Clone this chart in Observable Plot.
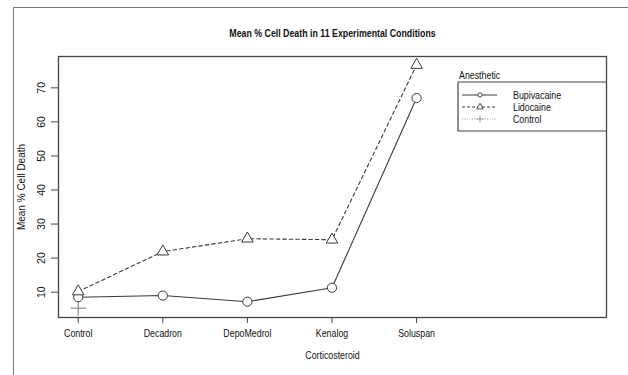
<!DOCTYPE html>
<html>
<head>
<meta charset="utf-8">
<script src="https://cdn.jsdelivr.net/npm/d3@7"></script>
<script src="https://cdn.jsdelivr.net/npm/@observablehq/plot@0.6"></script>
<style>
  html, body { margin: 0; padding: 0; background: #fff; }
  #wrap { position: relative; width: 628px; height: 375px; overflow: hidden; }
  #wrap > svg { position: absolute; left: 0; top: 0; }
  #border { position: absolute; left: 13px; top: 7px; width: 640px; height: 400px;
            border-left: 1.5px solid #777; border-top: 1.5px solid #777; pointer-events: none; }
</style>
</head>
<body>
<div id="wrap"><div id="border"></div></div>
<script>
// ---- data ----
const categories = ["Control", "Decadron", "DepoMedrol", "Kenalog", "Soluspan"];
const bupivacaine = [8.5, 9.0, 7.2, 11.3, 67.0];
const lidocaine = [10.2, 21.9, 25.7, 25.4, 76.7];
const controlCats = ["Control"];
const controlVals = [5.3];
const yTicks = [10, 20, 30, 40, 50, 60, 70];
const seriesNames = ["Bupivacaine", "Lidocaine", "Control"];
const titleText = "Mean % Cell Death in 11 Experimental Conditions";
const xLabel = "Corticosteroid";
const yLabel = "Mean % Cell Death";
const legendTitle = "Anesthetic";

// ---- build table ----
const rows = [];
categories.forEach((c, i) => rows.push({series: "Bupivacaine", pos: i + 1, value: bupivacaine[i]}));
categories.forEach((c, i) => rows.push({series: "Lidocaine", pos: i + 1, value: lidocaine[i]}));
controlCats.forEach((c, i) => rows.push({series: "Control", pos: categories.indexOf(c) + 1, value: controlVals[i]}));
const bup = rows.filter(d => d.series === "Bupivacaine");
const lid = rows.filter(d => d.series === "Lidocaine");
const ctl = rows.filter(d => d.series === "Control");

const ink = "#3a3a3a";
const font = "'Liberation Sans', Arial, Helvetica, sans-serif";

const chart = Plot.plot({
  width: 628,
  height: 375,
  marginLeft: 58,
  marginRight: 22,
  marginTop: 56,
  marginBottom: 58,
  style: {fontFamily: font, fontSize: "10.5px", color: "#111", background: "transparent"},
  x: {type: "linear", domain: [0.767, 7.245]},
  y: {type: "linear", domain: [2.56, 79.2]},
  marks: [
    Plot.frame({stroke: "#444", strokeWidth: 1.3}),
    Plot.axisX({ticks: categories.map((c, i) => i + 1), tickFormat: d => categories[d - 1],
                tickSize: 6, tickPadding: 6, label: null, stroke: "#444", className: "hz"}),
    Plot.axisY({ticks: yTicks, tickSize: 7, tickFormat: () => "", label: null, stroke: "#444"}),
    Plot.text(yTicks, {y: d => d, text: d => String(d), frameAnchor: "left", textAnchor: "middle",
                       dx: -17, rotate: -90, fontSize: 10.5, fill: "#111"}),
    Plot.line(bup, {x: "pos", y: "value", stroke: ink, strokeWidth: 1.1}),
    Plot.line(lid, {x: "pos", y: "value", stroke: ink, strokeWidth: 1.1, strokeDasharray: "3.5,3"}),
    Plot.dot(bup, {x: "pos", y: "value", r: 4.6, stroke: ink, fill: "white", strokeWidth: 1}),
    Plot.dot(lid, {x: "pos", y: "value", r: 4.3, symbol: "triangle", stroke: ink, fill: "white", strokeWidth: 1}),
    Plot.dot(ctl, {x: "pos", y: "value", r: 5, symbol: "plus", stroke: "#777", strokeWidth: 1}),
    Plot.text([titleText], {text: d => d, frameAnchor: "top", dy: -27, fontWeight: "bold", fontSize: 11, fill: "#111", className: "hz-title"}),
    Plot.text([xLabel], {text: d => d, frameAnchor: "bottom", dy: 41, fontSize: 10.5, fill: "#111", className: "hz"}),
    Plot.text([yLabel], {text: d => d, frameAnchor: "left", textAnchor: "middle", dx: -37, rotate: -90, fontSize: 10, fill: "#111"})
  ]
});
const wrap = document.getElementById("wrap");
wrap.insertBefore(chart, wrap.firstChild);

// ---- legend (overlay) ----
const lg = d3.select(wrap).append("svg")
  .attr("width", 628).attr("height", 375)
  .style("position", "absolute").style("left", "0px").style("top", "0px");
const bx0 = 458, bx1 = 606, by0 = 82, by1 = 131;
lg.append("path").attr("d", `M${bx1},${by0}H${bx0}V${by1}H${bx1}`)
  .attr("fill", "none").attr("stroke", "#444").attr("stroke-width", 1.2);
lg.append("text").attr("class", "hz").attr("x", bx0 + 1).attr("y", 79).text(legendTitle)
  .attr("font-family", font).attr("font-size", 10.5).attr("fill", "#111");
const dashes = ["none", "3,2", "1,1.5"];
const lcol = [ink, ink, "#999"];
seriesNames.forEach((name, i) => {
  const y = 95 + i * 12;
  lg.append("line").attr("x1", 462).attr("x2", 497).attr("y1", y).attr("y2", y)
    .attr("stroke", lcol[i]).attr("stroke-width", 1).attr("stroke-dasharray", dashes[i]);
  if (i === 2) {
    lg.append("path").attr("d", "M476.5," + y + "h7M480," + (y - 3.5) + "v7").attr("stroke", "#999").attr("fill", "none");
  } else {
    const sym = [d3.symbolCircle, d3.symbolTriangle][i];
    lg.append("path").attr("transform", `translate(480,${y})`)
      .attr("d", d3.symbol(sym, i === 0 ? 14 : 18)()).attr("fill", "white").attr("stroke", ink).attr("stroke-width", 0.9);
  }
  lg.append("text").attr("class", "hz").attr("x", 513).attr("y", y).attr("dy", "0.35em").text(name)
    .attr("font-family", font).attr("font-size", 10.5).attr("fill", "#111");
});

// ---- horizontal condensing (reference text is horizontally narrow) ----
function condense(sel, f) {
  wrap.querySelectorAll(sel).forEach(t => {
    if (!t.textContent) return;
    const L = t.getComputedTextLength();
    if (L > 0) { t.setAttribute("textLength", (L * f).toFixed(1)); t.setAttribute("lengthAdjust", "spacingAndGlyphs"); }
  });
}
condense(".hz text, text.hz", 0.84);
condense(".hz-title text", 0.80);
</script>
</body>
</html>
